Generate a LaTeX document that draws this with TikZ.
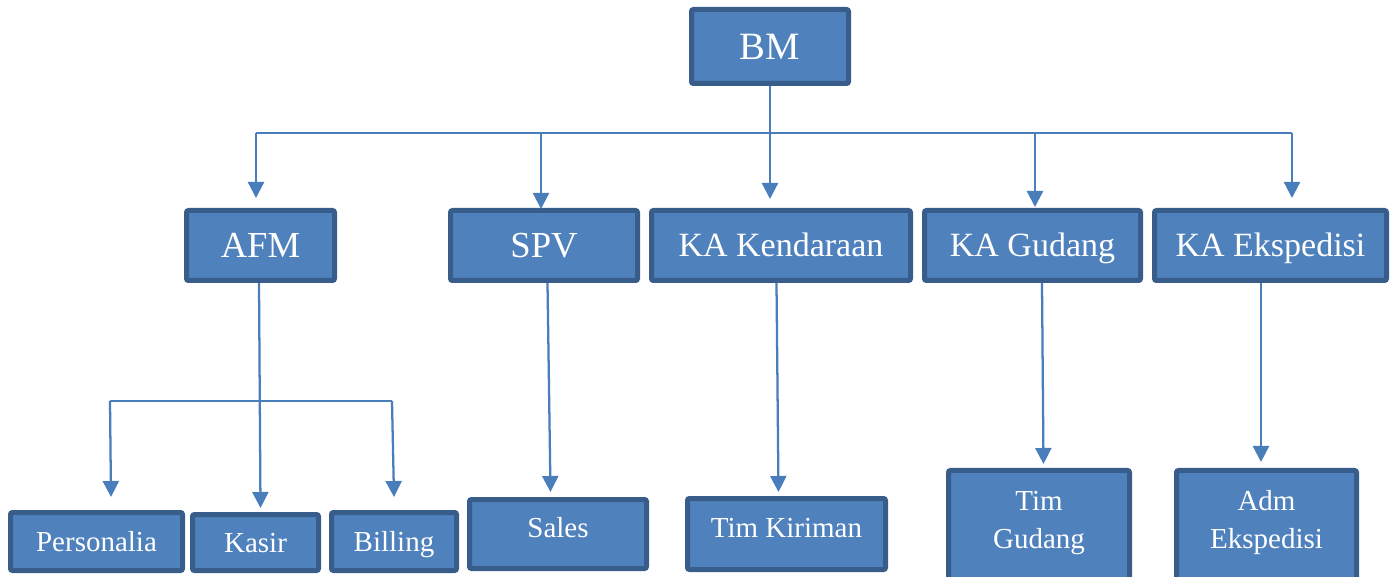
\documentclass[tikz,border=0pt]{standalone}
\usepackage{fontspec}
\setmainfont{Liberation Serif}
\usetikzlibrary{arrows.meta,calc}
\definecolor{boxfill}{HTML}{4F81BD}
\definecolor{boxline}{HTML}{385D8A}
\definecolor{conn}{HTML}{4A7EBB}
\tikzset{
  orgbox/.style={draw=boxline, fill=boxfill, line width=3.75pt, rounded corners=1.5pt,
    text=white, inner sep=0pt, align=center, text depth=0pt},
  big/.style={font=\fontsize{29}{34}\selectfont, text height=19.2pt},
  mid/.style={font=\fontsize{27.5}{32}\selectfont, text height=18.2pt},
  ka/.style={font=\fontsize{25.5}{30}\selectfont, text height=16.9pt},
  small/.style={font=\fontsize{21.75}{28.5}\selectfont, text height=14.4pt},
  tlabel/.style={text=white, inner sep=0pt, align=center, font=\fontsize{21.75}{28.5}\selectfont, yshift=15.75pt},
  conline/.style={draw=conn, line width=1.7pt},
  arr/.style={conline, -{Triangle[length=12pt,width=12pt]}}
}
\begin{document}
\begin{tikzpicture}[x=0.75pt,y=-0.75pt]
\clip (0,0) rectangle (1390,577);
% top
\node[orgbox,big,minimum width={(162-5)*0.75pt},minimum height={(79-5)*0.75pt}] (bm) at (770,46.5) {BM};
% middle row
\node[orgbox,mid,minimum width={(153-5)*0.75pt},minimum height={(75-5)*0.75pt}] (afm) at (260.5,245.5) {AFM};
\node[orgbox,mid,minimum width={(192-5)*0.75pt},minimum height={(75-5)*0.75pt}] (spv) at (544,245.5) {SPV};
\node[orgbox,ka,minimum width={(264-5)*0.75pt},minimum height={(75-5)*0.75pt}] (kak) at (781,245.5) {KA Kendaraan};
\node[orgbox,ka,minimum width={(221-5)*0.75pt},minimum height={(75-5)*0.75pt}] (kag) at (1032.5,245.5) {KA Gudang};
\node[orgbox,ka,minimum width={(237-5)*0.75pt},minimum height={(75-5)*0.75pt}] (kae) at (1270.5,245.5) {KA Ekspedisi};
% bottom row
\node[orgbox,small,minimum width={(177-5)*0.75pt},minimum height={(63-5)*0.75pt}] (pers) at (96.5,541.5) {Personalia};
\node[orgbox,small,minimum width={(131-5)*0.75pt},minimum height={(61-5)*0.75pt}] (kasir) at (255.5,542.5) {Kasir};
\node[orgbox,small,minimum width={(130-5)*0.75pt},minimum height={(63-5)*0.75pt}] (bill) at (394,541.5) {Billing};
\node[orgbox,small,text depth=9pt,minimum width={(182-5)*0.75pt},minimum height={(74-5)*0.75pt}] (sales) at (558,534) {Sales};
\node[orgbox,small,text depth=9pt,minimum width={(203-5)*0.75pt},minimum height={(76-5)*0.75pt}] (timk) at (786.5,534) {Tim Kiriman};
\node[orgbox,minimum width={(186-5)*0.75pt},minimum height={(152-5)*0.75pt},
  label={[tlabel]center:{Tim\\Gudang}}] (timg) at (1039,544) {};
\node[orgbox,minimum width={(185-5)*0.75pt},minimum height={(152-5)*0.75pt},
  label={[tlabel]center:{Adm\\Ekspedisi}}] (adm) at (1266.5,544) {};
% bus from BM
\coordinate (busL) at (256,133);
\coordinate (busR) at (1292,133);
\draw[conline] (busL) -- (busR);
\draw[arr] (bm.south) -- ($(bm.south |- kak.north)+(0,-9)$);
\draw[arr] (busL) -- ($(busL |- afm.north)+(0,-10)$);
\draw[arr] ($(busL)!(spv.north)!(busR)+(-3,0)$) -- ($(spv.north)+(-3,1)$);
\draw[arr] ($(busL)!(kag.north)!(busR)+(2.5,0)$) -- ($(kag.north)+(2.5,-1)$);
\draw[arr] (busR) -- ($(busR |- kae.north)+(0,-10)$);
% AFM subtree
\coordinate (bus2L) at (110,401);
\coordinate (bus2R) at (392,401);
\draw[conline] (bus2L) -- (bus2R);
\draw[arr] ($(afm.south)+(-1.5,0)$) -- ($(kasir.north)+(5,-4)$);
\draw[arr] (bus2L) -- ($(bus2L |- pers.north)+(1,-13)$);
\draw[arr] (bus2R) -- ($(bus2R |- bill.north)+(2,-13)$);
% other drops
\draw[arr] ($(spv.south)+(3.5,0)$) -- ($(sales.north)+(-7.5,-5)$);
\draw[arr] ($(kak.south)+(-4.5,0)$) -- ($(timk.north)+(-8,-4)$);
\draw[arr] ($(kag.south)+(9.5,0)$) -- ($(timg.north)+(4.5,-4)$);
\draw[arr] ($(kae.south)+(-9.5,0)$) -- ($(adm.north)+(-5.5,-6)$);
\end{tikzpicture}
\end{document}
